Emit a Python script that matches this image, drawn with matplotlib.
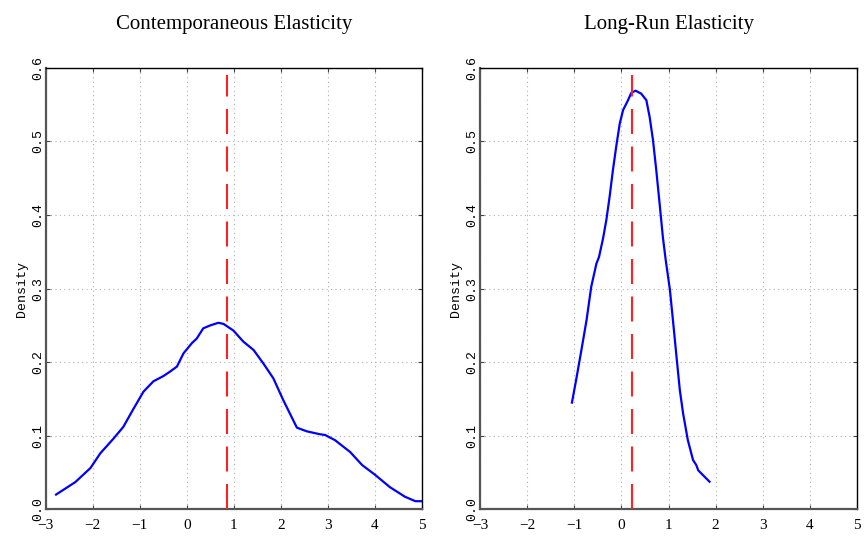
import matplotlib
matplotlib.use('Agg')
import matplotlib.pyplot as plt

# contemporaneous elasticity density
x_cont = [-2.78, -2.37, -2.05, -1.84, -1.56, -1.35, -1.13, -0.92, -0.71, -0.50,
          -0.36, -0.21, -0.07, 0.11, 0.21, 0.35, 0.50, 0.67, 0.78, 0.99,
          1.20, 1.42, 1.63, 1.84, 2.05, 2.34, 2.55, 2.83, 2.94, 3.15,
          3.47, 3.73, 4.00, 4.32, 4.64, 4.86, 5.00]
y_cont = [0.020, 0.037, 0.056, 0.076, 0.096, 0.112, 0.137, 0.160, 0.174, 0.181,
          0.187, 0.194, 0.212, 0.226, 0.232, 0.246, 0.250, 0.2535, 0.252, 0.243,
          0.228, 0.2165, 0.198, 0.178, 0.1485, 0.111, 0.106, 0.102, 0.101, 0.094,
          0.078, 0.060, 0.047, 0.030, 0.017, 0.011, 0.011]

# long-run elasticity density
x_long = [-1.05, -0.96, -0.85, -0.74, -0.64, -0.53, -0.475, -0.39, -0.32, -0.25,
          -0.18, -0.11, -0.036, 0.035, 0.14, 0.21, 0.30, 0.42, 0.53, 0.60,
          0.67, 0.74, 0.81, 0.88, 0.94, 1.03, 1.10, 1.17, 1.24, 1.31,
          1.41, 1.52, 1.59, 1.63, 1.80, 1.87]
y_long = [0.145, 0.176, 0.216, 0.257, 0.3025, 0.334, 0.343, 0.368, 0.393, 0.425,
          0.461, 0.493, 0.524, 0.5425, 0.556, 0.566, 0.569, 0.565, 0.556, 0.533,
          0.502, 0.461, 0.416, 0.370, 0.339, 0.298, 0.253, 0.207, 0.162, 0.130,
          0.094, 0.067, 0.060, 0.053, 0.042, 0.0375]

vline_x = [0.86, 0.225]
vline_top = 0.59
titles = ['Contemporaneous Elasticity', 'Long-Run Elasticity']
xticks = [-3, -2, -1, 0, 1, 2, 3, 4, 5]
yticks = [0.0, 0.1, 0.2, 0.3, 0.4, 0.5, 0.6]

fig = plt.figure(figsize=(8.64, 5.37), dpi=100)
ax_l = fig.add_axes([0.0529, 0.0516, 0.4355, 0.822])
ax_r = fig.add_axes([0.5556, 0.0516, 0.4363, 0.822])

series = [(x_cont, y_cont), (x_long, y_long)]
for i, ax in enumerate([ax_l, ax_r]):
    xs, ys = series[i]
    ax.plot(xs, ys, color='#0000ff', lw=1.6, zorder=3)
    ax.plot([vline_x[i], vline_x[i]], [0, vline_top], color='#ff2020', lw=1.5,
            dashes=(12, 6), zorder=4)
    ax.set_xlim(-3, 5)
    ax.set_ylim(0, 0.6)
    ax.set_xticks(xticks)
    ax.set_yticks(yticks)
    ax.set_xticklabels([str(t).replace('-', '\u2212') for t in xticks],
                       family='Liberation Serif', fontsize=11)
    ax.set_yticklabels(['%.1f' % t for t in yticks],
                       family='Liberation Mono', fontsize=9.5,
                       rotation=90, va='center')
    ax.tick_params(direction='in', length=3, top=True, right=True,
                   color='#444444')
    ax.tick_params(axis='x', pad=7)
    ax.tick_params(axis='y', pad=1)
    ax.grid(True, color='#b0b0b0', linestyle=(0, (1, 3)), lw=0.8)
    for side in ['left', 'bottom']:
        ax.spines[side].set_color('#555555')
        ax.spines[side].set_linewidth(1.6)
    for side in ['top', 'right']:
        ax.spines[side].set_color('black')
        ax.spines[side].set_linewidth(1.0)
    ax.set_title(titles[i], family='Liberation Serif', fontsize=15, pad=28)
    ax.set_ylabel('Density', family='Liberation Mono', fontsize=9.5,
                  labelpad=3)

fig.savefig('out.png', dpi=100)
